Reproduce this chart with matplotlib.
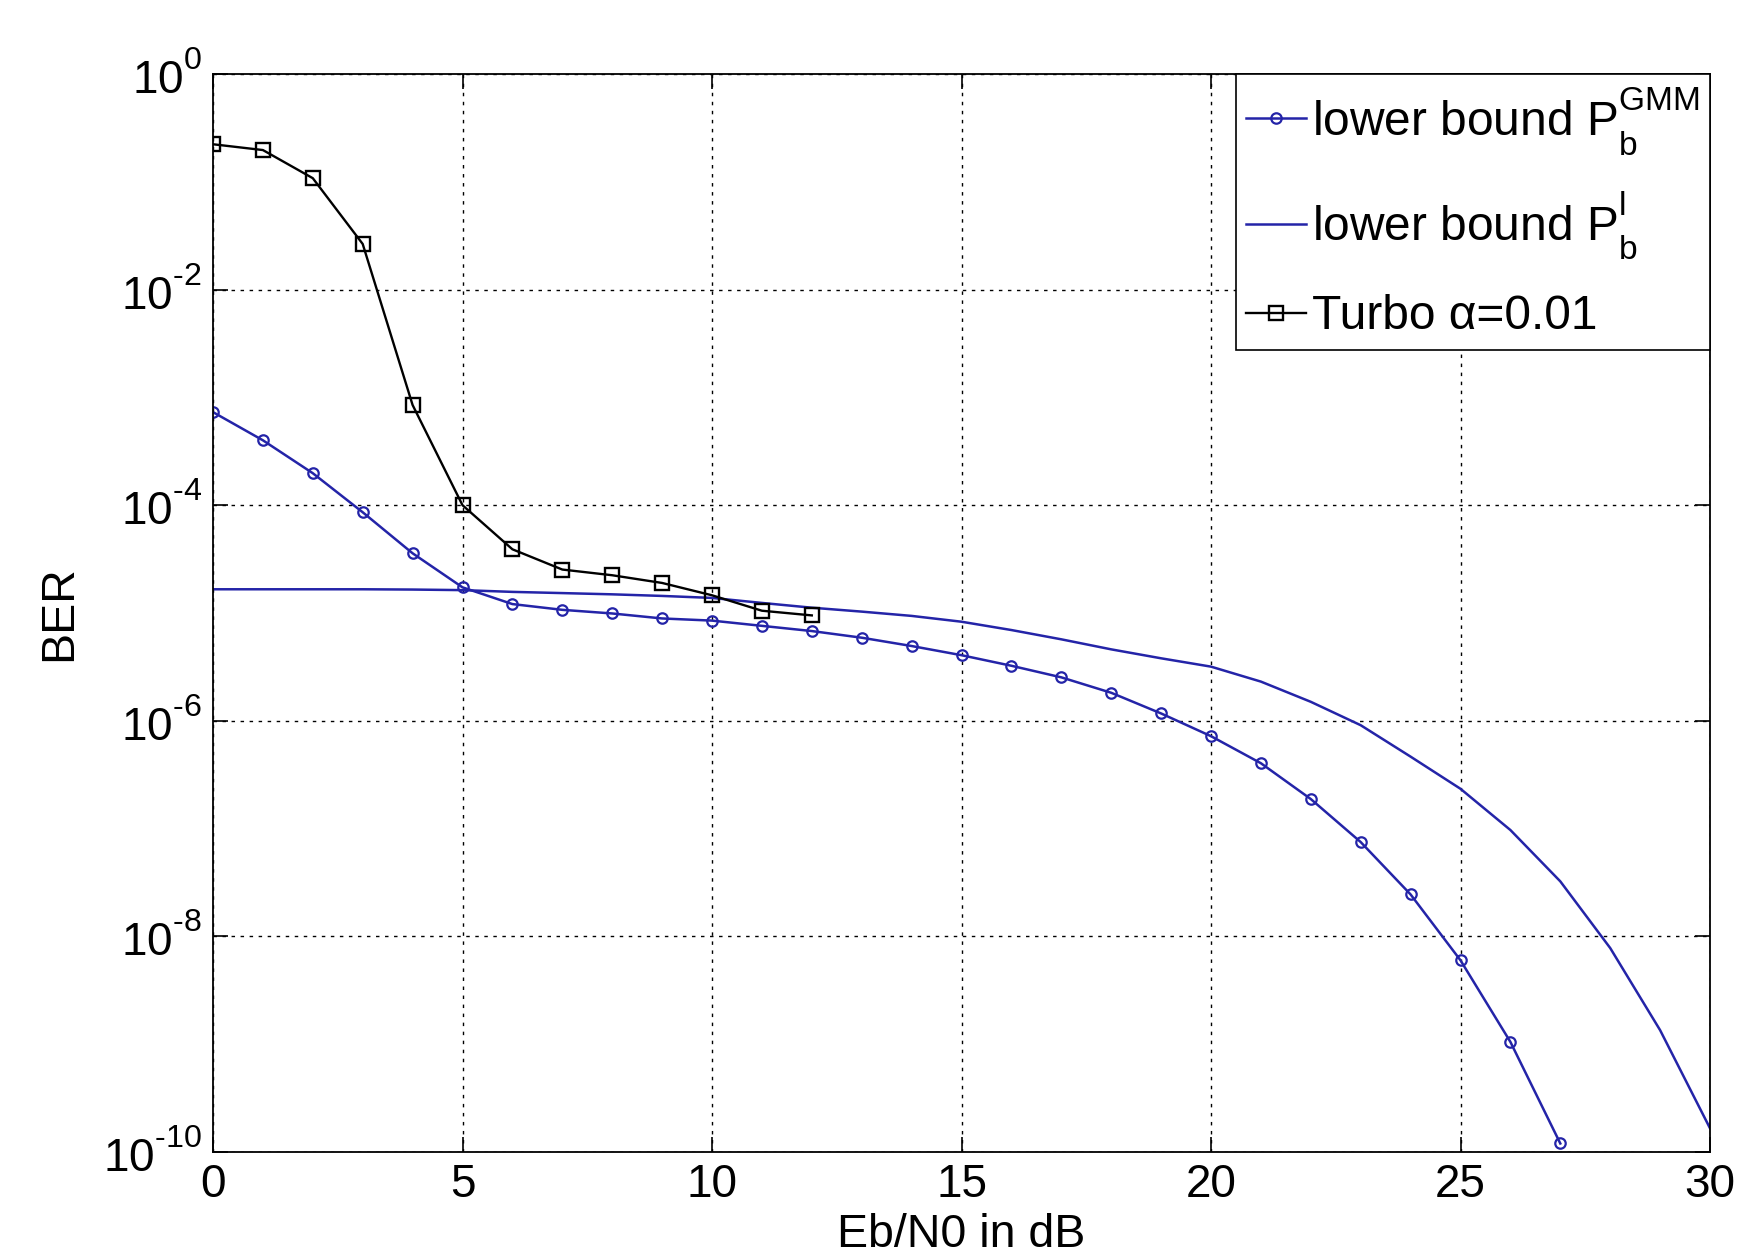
import matplotlib
matplotlib.use("Agg")
import matplotlib.pyplot as plt
import numpy as np

plt.rcParams['font.family'] = ['Liberation Sans', 'DejaVu Sans']
plt.rcParams['mathtext.fontset'] = 'custom'
plt.rcParams['mathtext.rm'] = 'Liberation Sans'
plt.rcParams['mathtext.it'] = 'Liberation Sans:italic'
plt.rcParams['mathtext.sf'] = 'Liberation Sans'

# MATLAB-like higher superscripts / lower subscripts
try:
    from matplotlib import _mathtext
    _mathtext.FontConstantsBase.sup1 = 0.95
    _mathtext.FontConstantsBase.sub2 = 0.75
except Exception:
    pass

# ---- data ----
gmm_x = list(range(0, 28))
gmm_y = [7.3e-4, 4.0e-4, 1.98e-4, 8.6e-5, 3.58e-5, 1.73e-5, 1.21e-5, 1.07e-5,
         9.9e-6, 8.9e-6, 8.5e-6, 7.6e-6, 6.8e-6, 5.9e-6, 4.94e-6, 4.06e-6,
         3.24e-6, 2.53e-6, 1.82e-6, 1.17e-6, 7.2e-7, 4.04e-7, 1.88e-7, 7.5e-8,
         2.45e-8, 6.0e-9, 1.05e-9, 1.2e-10]

lb_x = list(range(0, 31))
lb_y = [1.66e-5, 1.66e-5, 1.66e-5, 1.66e-5, 1.65e-5, 1.63e-5, 1.57e-5, 1.53e-5,
        1.49e-5, 1.44e-5, 1.38e-5, 1.24e-5, 1.12e-5, 1.03e-5, 9.4e-6, 8.3e-6,
        6.95e-6, 5.7e-6, 4.6e-6, 3.8e-6, 3.18e-6, 2.31e-6, 1.5e-6, 9.1e-7,
        4.65e-7, 2.34e-7, 9.7e-8, 3.24e-8, 7.8e-9, 1.35e-9, 1.66e-10]

turbo_x = list(range(0, 13))
turbo_y = [0.223, 0.197, 0.108, 0.0265, 8.5e-4, 1.0e-4, 3.9e-5, 2.53e-5,
           2.24e-5, 1.9e-5, 1.46e-5, 1.05e-5, 9.5e-6]

xticks = [0, 5, 10, 15, 20, 25, 30]
yexp = [-10, -8, -6, -4, -2, 0]

labels = [r'lower bound P$_\mathregular{b}^\mathregular{GMM}$',
          r'lower bound P$_\mathregular{b}^\mathregular{l}$',
          'Turbo α=0.01']

blue = '#2424a8'

fig = plt.figure(figsize=(17.45, 12.56), dpi=100)
ax = fig.add_axes([213/1745, 1-1152/1256, (1710-213)/1745, (1152-74)/1256])

ax.plot(gmm_x, gmm_y, '-o', color=blue, lw=1.8, ms=7.5, mfc='none', mew=1.6,
        label=labels[0])
ax.plot(lb_x, lb_y, '-', color=blue, lw=1.8, label=labels[1])
ax.plot(turbo_x, turbo_y, '-s', color='black', lw=1.7, ms=9.5, mfc='none',
        mew=1.7, label=labels[2])

ax.set_yscale('log')
ax.set_xlim(0, 30)
ax.set_ylim(1e-10, 1)
ax.set_xticks(xticks)
ax.set_yticks([10.0**e for e in yexp])
ax.set_yticklabels([r'$\mathregular{10^{%s}}$' % str(e).replace('-', '\u2010')
                    for e in yexp])
ax.yaxis.set_minor_locator(matplotlib.ticker.NullLocator())

ax.grid(True, color='black', linestyle=(0, (2.5, 4)), linewidth=1.0)
ax.tick_params(direction='in', length=11, width=1.2, top=True, right=True,
               labelsize=33, pad=8)
for s in ax.spines.values():
    s.set_linewidth(1.3)

ax.set_xlabel('Eb/N0 in dB', fontsize=33.5, labelpad=4)
ax.set_ylabel('BER', fontsize=33.5, labelpad=16)

leg = ax.legend(loc='upper right', borderaxespad=0, fancybox=False,
                edgecolor='black', framealpha=1, fontsize=34.5,
                handlelength=1.25, handletextpad=0.12, labelspacing=0.68,
                borderpad=0.22)
leg.get_frame().set_linewidth(1.2)

fig.savefig('out.png', dpi=100)
